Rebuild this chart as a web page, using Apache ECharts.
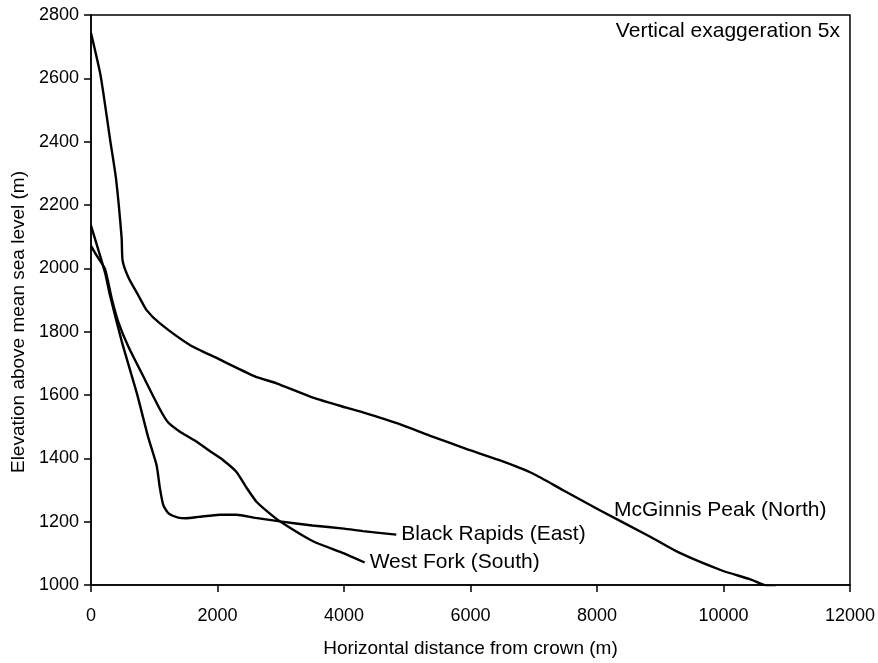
<!DOCTYPE html>
<html>
<head>
<meta charset="utf-8">
<script src="https://cdn.jsdelivr.net/npm/echarts@6/dist/echarts.min.js"></script>
<style>
  html, body { margin: 0; padding: 0; background: #fff; }
  #chart { width: 878px; height: 663px; }
</style>
</head>
<body>
<div id="chart"></div>
<script>
// profile data: [distance (m), elevation (m)]
const mcginnis = [
  [0, 2743], [153, 2607], [300, 2409], [395, 2284], [484, 2097], [500, 2024],
  [590, 1972], [747, 1915], [879, 1868], [1090, 1826], [1563, 1758], [1984, 1717],
  [2590, 1659], [2932, 1637], [3510, 1592], [4037, 1560], [4300, 1545], [4880, 1508],
  [5353, 1472], [5932, 1430], [6458, 1394], [6984, 1352], [7458, 1300], [8037, 1237],
  [8827, 1154], [9300, 1102], [9985, 1045], [10406, 1019], [10670, 998], [10827, 993]
]
const blackRapids = [
  [0, 2135], [221, 1987], [300, 1915], [485, 1770], [647, 1659], [734, 1599],
  [905, 1466], [1037, 1378], [1090, 1305], [1142, 1253], [1221, 1227], [1379, 1213],
  [1500, 1211], [1700, 1215], [2037, 1222], [2300, 1222], [2600, 1212], [2985, 1201],
  [3500, 1188], [4000, 1178], [4300, 1170], [4827, 1159]
]
const westFork = [
  [0, 2071], [90, 2040], [221, 1998], [326, 1906], [431, 1831], [590, 1753],
  [826, 1659], [1090, 1555], [1221, 1513], [1400, 1485], [1642, 1456], [1900, 1420],
  [2090, 1394], [2300, 1357], [2450, 1310], [2616, 1263], [2800, 1230], [2985, 1201],
  [3510, 1138], [4000, 1100], [4327, 1071]
]
const seriesNames = ['McGinnis Peak (North)', 'Black Rapids (East)', 'West Fork (South)']
const xTicks = { min: 0, max: 12000, step: 2000 }
const yTicks = { min: 1000, max: 2800, step: 200 }

const font = 'Liberation Sans, Arial, sans-serif'
const chart = echarts.init(document.getElementById('chart'))

const lineSeries = (name, data, showEnd) => ({
  name,
  type: 'line',
  data,
  smooth: 0.2,
  symbol: 'none',
  clip: true,
  lineStyle: { color: '#000', width: 2.4 },
  endLabel: {
    show: showEnd,
    formatter: '{a}',
    color: '#000',
    fontFamily: font,
    fontSize: 21,
    distance: 5
  }
})

chart.setOption({
  animation: false,
  grid: {
    left: 91, right: 27, top: 15, bottom: 72,
    show: true, borderColor: '#000', borderWidth: 1.5
  },
  xAxis: {
    type: 'value',
    min: xTicks.min, max: xTicks.max, interval: xTicks.step,
    name: 'Horizontal distance from crown (m)',
    nameLocation: 'middle',
    nameGap: 54,
    nameTextStyle: { color: '#000', fontFamily: font, fontSize: 19 },
    axisLine: { lineStyle: { color: '#000', width: 1.5 } },
    axisTick: { show: true, inside: false, length: 7, lineStyle: { color: '#000', width: 1.5 } },
    axisLabel: { color: '#000', fontFamily: font, fontSize: 18, margin: 22, formatter: v => String(v) },
    splitLine: { show: false }
  },
  yAxis: {
    type: 'value',
    min: yTicks.min, max: yTicks.max, interval: yTicks.step,
    name: 'Elevation above mean sea level (m)',
    nameLocation: 'middle',
    nameGap: 59,
    nameRotate: 90,
    nameTextStyle: { color: '#000', fontFamily: font, fontSize: 19, padding: [0, 44, 0, 0] },
    axisLine: { show: true, lineStyle: { color: '#000', width: 1.5 } },
    axisTick: { show: true, inside: false, length: 7, lineStyle: { color: '#000', width: 1.5 } },
    axisLabel: { color: '#000', fontFamily: font, fontSize: 18, margin: 12, formatter: v => String(v) },
    splitLine: { show: false }
  },
  series: [
    lineSeries(seriesNames[0], mcginnis, false),
    lineSeries(seriesNames[1], blackRapids, true),
    lineSeries(seriesNames[2], westFork, true)
  ],
  graphic: [
    {
      type: 'text', left: 614, top: 500,
      style: { text: seriesNames[0], fill: '#000', font: '21px ' + font }
    },
    {
      type: 'text', right: 38, top: 21,
      style: { text: 'Vertical exaggeration 5x', fill: '#000', font: '21px ' + font }
    }
  ]
})
</script>
</body>
</html>
